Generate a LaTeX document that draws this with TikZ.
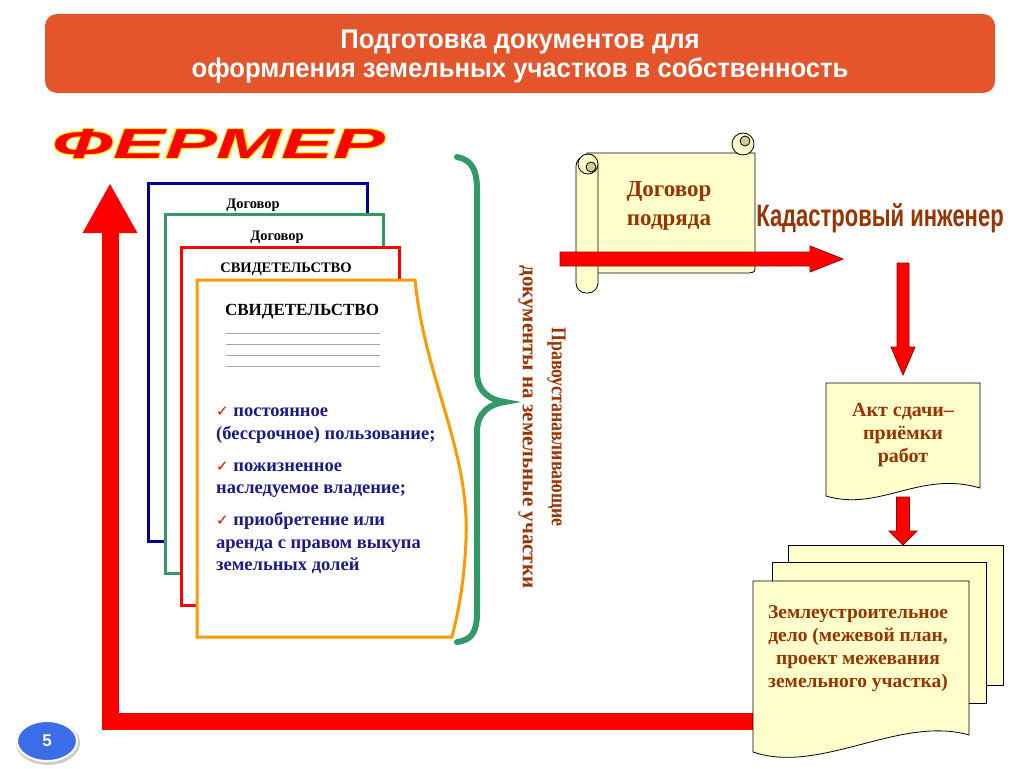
\documentclass[tikz,border=0pt]{standalone}
\usepackage{fontspec}
\setmainfont{Liberation Serif}
\setsansfont{Liberation Sans}
\newfontfamily\symfont{DejaVu Sans}
\usetikzlibrary{arrows.meta,calc}

\definecolor{bannerred}{HTML}{E4552B}
\definecolor{docnavy}{HTML}{000099}
\definecolor{docgreen}{HTML}{339966}
\definecolor{docorange}{HTML}{FF9900}
\definecolor{brownish}{HTML}{993300}
\definecolor{paleyellow}{HTML}{FFFFCC}
\definecolor{curlolive}{HTML}{CCCC99}
\definecolor{darkred}{HTML}{990000}
\definecolor{listblue}{HTML}{1A1A8C}
\definecolor{pageblue}{HTML}{3C6CE8}

\newcommand\tick{{\color{red}\symfont\mdseries\fontsize{15}{15}\selectfont ✓}}

\tikzset{
  sheet/.style={line width=3pt, fill=white},
  paper/.style={draw=black, line width=0.8pt, fill=paleyellow},
  fatarrow/.style={draw=darkred, line width=0.8pt, fill=red},
  bigarrow/.style={draw=red, line width=17pt, -{Triangle[width=51pt,length=50pt]}},
  brownlabel/.style={text=brownish, align=center, inner sep=0pt},
  sheetlabel/.style={font=\bfseries\fontsize{14.5}{16}\selectfont, inner sep=0pt},
}

\begin{document}
\begin{tikzpicture}[x=1pt,y=-1pt]
\useasboundingbox (0,0) rectangle (1024,768);

% title banner
\fill[bannerred, rounded corners=12pt] (45,14) rectangle (995,93);
\node[text=white, align=center, font=\sffamily\bfseries\fontsize{27}{29}\selectfont] (title) at (520,57)
  {\scalebox{0.95}[1]{Подготовка документов для}\\\scalebox{0.95}[1]{оформления земельных участков в собственность}};

% farmer
\foreach \dx/\dy in {1.2/0,-1.2/0,0/1.2,0/-1.2,0.9/0.9,-0.9/0.9,0.9/-0.9,-0.9/-0.9}
  \node[text=yellow, font=\sffamily\bfseries\itshape\fontsize{42}{42}\selectfont] at (219+\dx,144+\dy) {\scalebox{1.85}[1]{ФЕРМЕР}};
\node[text=red, font=\sffamily\bfseries\itshape\fontsize{42}{42}\selectfont] (fermer) at (219,144) {\scalebox{1.85}[1]{ФЕРМЕР}};

% big return arrow
\coordinate (uptip) at (110,183);
\coordinate (zemleft) at (755,721);
\draw[bigarrow] (zemleft) -| (uptip);

% stack of title documents
\draw[sheet, draw=docnavy] (148,183) rectangle (367,541);
\node[sheetlabel] (dog1) at (253,205) {Договор};
\draw[sheet, draw=docgreen] (165,214) rectangle (383,573);
\node[sheetlabel] (dog2) at (277,237) {Договор};
\draw[sheet, draw=red] (181,247) rectangle (399,605);
\node[sheetlabel] (svid1) at (286,269) {СВИДЕТЕЛЬСТВО};
\draw[sheet, draw=docorange] (197,280) -- (415,280)
  .. controls (425,380) and (470,450) .. (466,540)
  .. controls (464,590) and (456,620) .. (452,637) -- (197,637) -- cycle;
\node[sheetlabel, font=\bfseries\fontsize{17}{19}\selectfont] (svid2) at (302,312) {СВИДЕТЕЛЬСТВО};
\foreach \y in {333,344,355,366}
  \draw[gray!70, line width=0.6pt] (226,\y) -- (380,\y);
\node[anchor=north west, inner sep=0pt, align=left, text=listblue,
  font=\bfseries\fontsize{18.5}{22.5}\selectfont] (rights) at (216,407)
  {\tick{} постоянное\\
   (бессрочное) пользование;\\[9.5pt]
   \tick{} пожизненное\\
   наследуемое владение;\\[9.5pt]
   \tick{} приобретение или\\
   аренда с правом выкупа\\
   земельных долей};

% brace
\draw[docgreen, line width=6pt, line cap=round] (457,157)
  .. controls (472,160) and (477,170) .. (477,190) -- (477,372)
  .. controls (477,392) and (490,400) .. (505,402)
  .. controls (490,404) and (477,412) .. (477,432) -- (477,612)
  .. controls (477,632) and (472,640) .. (457,642);
\node[brownlabel, rotate=-90, font=\bfseries\fontsize{21}{29}\selectfont] (rightsdocs) at (542,427)
  {\scalebox{0.85}[1]{Правоустанавливающие}\\документы на земельные участки};

% contract scroll
\draw[paper] (587,153) -- (755,153) -- (755,266) .. controls (755,272) .. (749,273) -- (590,273) -- cycle;
\draw[paper] (743,144) circle (11);
\draw[paper, fill=curlolive] (745,141) circle (5);
\draw[paper, rounded corners=10pt] (576,156) rectangle (598,293);
\draw[paper] (588,164) circle (10);
\draw[paper, fill=curlolive] (591,167) circle (5);
\node[brownlabel, font=\bfseries\fontsize{23}{29}\selectfont] (contract) at (669,206) {Договор\\подряда};

% arrow to engineer
\coordinate (h1) at (560,259);
\coordinate (h2) at (843,259);
\draw[fatarrow] ($(h1)+(0,-7)$) -- ($(h2)+(-33,-7)$) -- ($(h2)+(-33,-13)$) -- (h2)
  -- ($(h2)+(-33,13)$) -- ($(h2)+(-33,7)$) -- ($(h1)+(0,7)$) -- cycle;
\node[text=brownish, font=\sffamily\bfseries\fontsize{31}{34}\selectfont] (engineer) at (880,218)
  {\scalebox{0.71}[1]{Кадастровый инженер}};

% arrow to act
\coordinate (k1) at (903,263);
\coordinate (k2) at (903,375);
\draw[fatarrow] ($(k1)+(-6,0)$) -- ($(k2)+(-6,-28)$) -- ($(k2)+(-12,-28)$) -- (k2)
  -- ($(k2)+(12,-28)$) -- ($(k2)+(6,-28)$) -- ($(k1)+(6,0)$) -- cycle;

% act document
\draw[paper] (826,383) -- (980,383) -- (980,488)
  .. controls (920,470) and (880,512) .. (826,496) -- cycle;
\node[brownlabel, font=\bfseries\fontsize{20}{23}\selectfont] (akt) at (903,435)
  {Акт сдачи–\\приёмки\\работ};

% arrow to land file
\coordinate (a1) at (903,497);
\coordinate (a2) at (903,545);
\draw[fatarrow] ($(a1)+(-6.5,0)$) -- ($(a2)+(-6.5,-14)$) -- ($(a2)+(-14,-14)$) -- (a2)
  -- ($(a2)+(14,-14)$) -- ($(a2)+(6.5,-14)$) -- ($(a1)+(6.5,0)$) -- cycle;

% land file stack
\draw[paper] (788,545) rectangle (1003,685);
\draw[paper] (772,562) rectangle (986,703);
\draw[paper] (753,581) -- (969,581) -- (969,735)
  .. controls (900,715) and (820,775) .. (753,752) -- cycle;
\node[brownlabel, font=\bfseries\fontsize{19.5}{23}\selectfont] (zem) at (858,649)
  {Землеустроительное\\дело (межевой план,\\проект межевания\\земельного участка)};

% page number
\fill[gray!40] (48,743) ellipse (32 and 22);
\draw[white, line width=2pt, fill=pageblue] (47,741) ellipse (30 and 20);
\node[text=white, font=\sffamily\bfseries\fontsize{17}{17}\selectfont] (pagenum) at (47,741) {5};
\end{tikzpicture}
\end{document}
